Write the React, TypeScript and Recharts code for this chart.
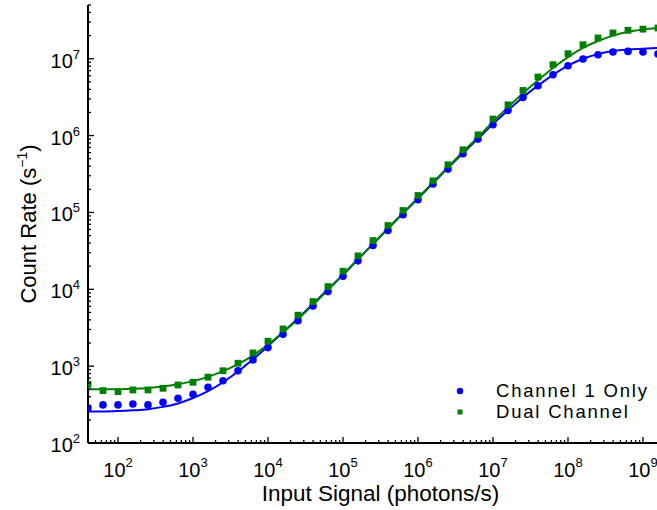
import React from 'react'
import { ComposedChart, Line, XAxis, YAxis, Legend } from 'recharts'

// input signal (photons/s), 5 points per decade
const inputSignal = [
  39.8, 63.1, 100, 158, 251, 398, 631, 1000, 1585, 2512, 3981, 6310,
  1e4, 1.585e4, 2.512e4, 3.981e4, 6.31e4, 1e5, 1.585e5, 2.512e5, 3.981e5, 6.31e5,
  1e6, 1.585e6, 2.512e6, 3.981e6, 6.31e6, 1e7, 1.585e7, 2.512e7, 3.981e7, 6.31e7,
  1e8, 1.585e8, 2.512e8, 3.981e8, 6.31e8, 1e9, 1.585e9,
]

const channel1 = [
  288, 313, 313, 322, 313, 339, 382, 431, 531, 646, 873, 1205,
  1742, 2600, 3908, 6081, 9333, 14790, 23440, 37070, 58080, 93110,
  145900, 233900, 366400, 579400, 899500, 1384000, 2123000, 3133000, 4446000, 6194000,
  8110000, 9908000, 11270000, 12220000, 12450000, 12220000, 11510000,
]

const dualChannel = [
  581, 480, 466, 490, 490, 515, 569, 617, 719, 871, 1091, 1486,
  2109, 3048, 4603, 6918, 10840, 17180, 27230, 43050, 67610, 105900,
  166000, 257600, 416900, 653100, 1023000, 1641000, 2512000, 3864000, 5781000, 8356000,
  11610000, 15210000, 18620000, 21630000, 23440000, 24270000, 25120000,
]

const channel1Fit = [
  257, 257, 260, 266, 275, 295, 327, 385, 473, 617, 851, 1230,
  1820, 2754, 4169, 6457, 10000, 15490, 24550, 38900, 61660, 97720,
  151400, 239900, 380200, 588800, 912000, 1413000, 2138000, 3162000, 4467000, 6166000,
  8128000, 10000000, 11480000, 12590000, 13180000, 13490000, 13800000,
]

const dualChannelFit = [
  501, 501, 501, 507, 519, 543, 582, 638, 724, 861, 1059, 1380,
  1905, 2754, 4074, 6310, 9772, 15490, 24550, 38900, 61660, 97720,
  154900, 245500, 389000, 616600, 955000, 1514000, 2344000, 3548000, 5248000, 7586000,
  10470000, 13800000, 16980000, 19950000, 22390000, 23990000, 25120000,
]

const xMajor = [1e2, 1e3, 1e4, 1e5, 1e6, 1e7, 1e8, 1e9]
const yMajor = [1e2, 1e3, 1e4, 1e5, 1e6, 1e7]
const minorSteps = [2, 3, 4, 5, 6, 7, 8, 9]

const xDomain = [39.8, 2.512e9]
const yDomain = [100, 5e7]

const BLUE = '#0000ff'
const GREEN = '#008000'
const FONT = '"Liberation Sans", Arial, sans-serif'

const buildTicks = (majors: number[], lo: number, hi: number) => {
  const out: number[] = []
  ;[majors[0] / 10, ...majors].forEach(m => {
    out.push(m)
    minorSteps.forEach(s => out.push(m * s))
  })
  return out.filter(v => v >= lo * 0.999 && v <= hi * 1.001)
}

const xTicks = buildTicks(xMajor, xDomain[0], xDomain[1])
const yTicks = buildTicks(yMajor, yDomain[0], yDomain[1])

const isMajor = (v: number) => Math.abs(Math.log10(v) - Math.round(Math.log10(v))) < 1e-6

const data = inputSignal.map((x, i) => ({
  x,
  ch1: channel1[i],
  dual: dualChannel[i],
  ch1Fit: channel1Fit[i],
  dualFit: dualChannelFit[i],
}))

const BottomTick = ({ x, y, payload }: any) => {
  const v = payload.value
  const major = isMajor(v)
  return (
    <g>
      <line x1={x} x2={x} y1={y} y2={y - (major ? 6 : 3)} stroke="#000" strokeWidth={1.3} />
      {major && (
        <text x={x} y={y + 34} textAnchor="middle" fontFamily={FONT} fontSize={20} fill="#000">
          <tspan>10</tspan>
          <tspan dy={-10} fontSize={13}>{Math.round(Math.log10(v))}</tspan>
        </text>
      )}
    </g>
  )
}

const TopTick = ({ x, y, payload }: any) => {
  const major = isMajor(payload.value)
  return <line x1={x} x2={x} y1={y} y2={y + (major ? 6 : 3)} stroke="#000" strokeWidth={1.3} />
}

const LeftTick = ({ x, y, payload }: any) => {
  const v = payload.value
  const major = isMajor(v)
  return (
    <g>
      <line x1={x} x2={x + (major ? 6 : 3)} y1={y} y2={y} stroke="#000" strokeWidth={1.3} />
      {major && (
        <text x={x - 8} y={y + 9} textAnchor="end" fontFamily={FONT} fontSize={20} fill="#000">
          <tspan>10</tspan>
          <tspan dy={-9} fontSize={13}>{Math.round(Math.log10(v))}</tspan>
        </text>
      )}
    </g>
  )
}

const CircleDot = ({ cx, cy, index }: any) => (
  <circle key={`c${index}`} cx={cx} cy={cy} r={3.8} fill={BLUE} />
)

const SquareDot = ({ cx, cy, index }: any) => (
  <rect key={`s${index}`} x={cx - 3.4} y={cy - 3.4} width={6.8} height={6.8} fill={GREEN} />
)

const legendItems = [
  { name: 'Channel 1 Only', color: BLUE, shape: 'circle' },
  { name: 'Dual Channel', color: GREEN, shape: 'square' },
]

const LegendContent = () => (
  <div style={{ fontFamily: FONT, fontSize: 18.5, color: '#000', letterSpacing: 1.8 }}>
    {legendItems.map(item => (
      <div key={item.name} style={{ display: 'flex', alignItems: 'center', height: 21, lineHeight: '21px' }}>
        <svg width={46} height={16}>
          {item.shape === 'circle'
            ? <circle cx={10} cy={8} r={3.2} fill={item.color} />
            : <rect x={7.5} y={5.5} width={5} height={5} fill={item.color} />}
        </svg>
        <span>{item.name}</span>
      </div>
    ))}
  </div>
)

export default function App() {
  return (
    <div style={{ position: 'absolute', left: 0, top: 0, width: 657, height: 510, overflow: 'hidden', background: '#fff' }}>
      <ComposedChart width={700} height={510} data={data} margin={{ top: 5, right: 27, left: 0, bottom: 0 }}>
        <XAxis
          dataKey="x"
          type="number"
          scale="log"
          domain={xDomain}
          allowDataOverflow
          ticks={xTicks}
          interval={0}
          tick={<BottomTick />}
          tickLine={false}
          tickSize={0}
          tickMargin={0}
          height={67}
          axisLine={{ stroke: '#000', strokeWidth: 2 }}
          label={{ value: 'Input Signal (photons/s)', position: 'insideBottom', offset: 9, fontFamily: FONT, fontSize: 22.5, fill: '#000' }}
        />
        <XAxis
          xAxisId="top"
          orientation="top"
          dataKey="x"
          type="number"
          scale="log"
          domain={xDomain}
          allowDataOverflow
          ticks={xTicks}
          interval={0}
          tick={<TopTick />}
          tickLine={false}
          tickSize={0}
          tickMargin={0}
          height={0}
          axisLine={{ stroke: '#000', strokeWidth: 2 }}
        />
        <YAxis
          type="number"
          scale="log"
          domain={yDomain}
          allowDataOverflow
          ticks={yTicks}
          interval={0}
          tick={<LeftTick />}
          tickLine={false}
          tickSize={0}
          tickMargin={0}
          width={88}
          axisLine={{ stroke: '#000', strokeWidth: 2 }}
          label={(props: any) => {
            const vb = props.viewBox
            const cy = vb.y + vb.height / 2
            return (
              <text x={36} y={cy} transform={`rotate(-90, 36, ${cy})`} textAnchor="middle" fontFamily={FONT} fontSize={22} fill="#000">
                <tspan>Count Rate (s</tspan>
                <tspan dy={-9} fontSize={14}>−1</tspan>
                <tspan dy={9}>)</tspan>
              </text>
            )
          }}
        />
        <Line dataKey="ch1Fit" type="monotone" stroke={BLUE} strokeWidth={2} dot={false} isAnimationActive={false} />
        <Line dataKey="dualFit" type="monotone" stroke={GREEN} strokeWidth={2} dot={false} isAnimationActive={false} />
        <Line dataKey="ch1" stroke="none" dot={<CircleDot />} activeDot={false} isAnimationActive={false} />
        <Line dataKey="dual" stroke="none" dot={<SquareDot />} activeDot={false} isAnimationActive={false} />
        <Legend
          layout="horizontal"
          verticalAlign="middle"
          align="center"
          content={<LegendContent />}
          wrapperStyle={{ position: 'absolute', left: 450, top: 380, width: 230 }}
        />
      </ComposedChart>
    </div>
  )
}
